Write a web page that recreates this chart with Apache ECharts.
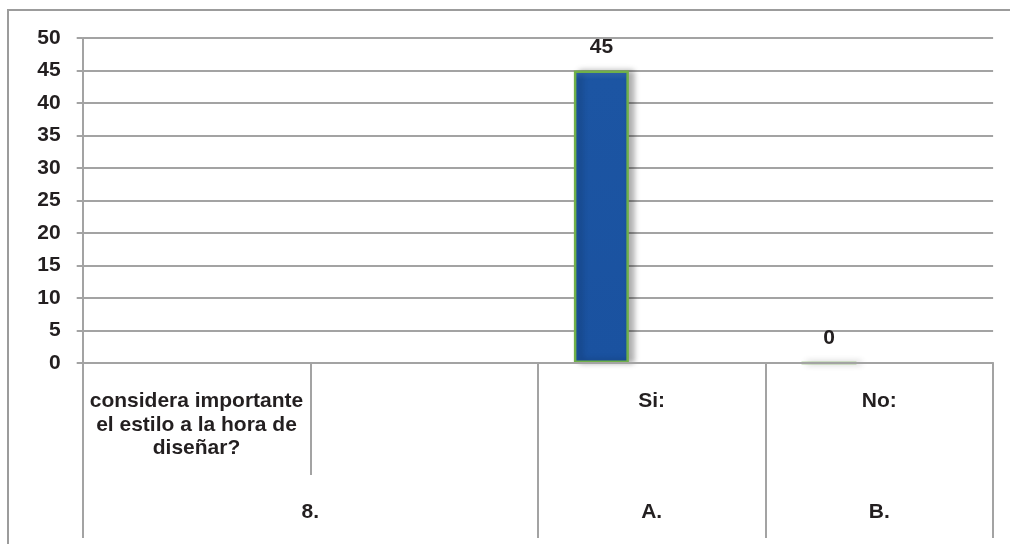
<!DOCTYPE html>
<html>
<head>
<meta charset="utf-8">
<script src="https://cdn.jsdelivr.net/npm/echarts@6/dist/echarts.min.js"></script>
<style>
  html, body { margin: 0; padding: 0; background: #ffffff; }
  #frame {
    position: absolute; left: 7px; top: 9px; width: 1100px; height: 600px;
    border-left: 2px solid #9c9c9c; border-top: 2px solid #9c9c9c;
    box-sizing: border-box;
  }
  #chart { position: absolute; left: 0; top: 0; width: 1010px; height: 544px; }
</style>
</head>
<body>
<div id="frame"></div>
<div id="chart"></div>
<script>
// Answer options (first level of the category axis)
const categories = [
  'considera importante\nel estilo a la hora de\ndiseñar?',
  '',
  'Si:',
  'No:'
];
// Group labels (second level of the category axis) and the category span of each
const groupLabels = ['8.', 'A.', 'B.'];
const groupStarts = [0, 2, 3];
const groupEnds = [2, 3, 4];
// Counts of responses
const responses = ['-', '-', 45, 0];
// Second series slot of the clustered layout (no values)
const emptySlot = ['-', '-', '-', '-'];
// Value axis ticks
const yMin = 0, yMax = 50, yStep = 5;

const FONT = '"Liberation Sans", Arial, sans-serif';
const TEXT = '#231f20';
const LINE = '#a3a3a3';

const groupCenters = groupStarts.map((s, i) => (s + groupEnds[i]) / 2);
const groupTicks = [groupStarts[0]].concat(groupEnds);

const chart = echarts.init(document.getElementById('chart'), null, { renderer: 'canvas' });
chart.setOption({
  animation: false,
  grid: { left: 82.7, right: 16.9, top: 38, bottom: 181, containLabel: false },
  xAxis: [
    {
      type: 'category',
      z: 3,
      data: categories,
      boundaryGap: true,
      axisLine: { show: true, lineStyle: { color: LINE, width: 2 } },
      axisTick: { show: true, interval: 0, length: 112, lineStyle: { color: LINE, width: 2 } },
      axisLabel: {
        interval: 0, margin: 27, fontSize: 21, fontWeight: 'bold', fontFamily: FONT,
        color: TEXT, lineHeight: 23.3, verticalAlign: 'top', align: 'center'
      },
      splitLine: { show: false }
    },
    {
      type: 'value',
      position: 'bottom',
      offset: 112,
      min: 0,
      max: categories.length,
      axisLine: { show: false },
      axisTick: { show: true, length: 63, customValues: groupTicks, lineStyle: { color: LINE, width: 2 } },
      axisLabel: {
        customValues: groupCenters, margin: 27, fontSize: 21, fontWeight: 'bold', fontFamily: FONT,
        color: TEXT, verticalAlign: 'top',
        formatter: v => groupLabels[groupCenters.indexOf(v)]
      },
      splitLine: { show: false }
    }
  ],
  yAxis: {
    type: 'value',
    min: yMin, max: yMax, interval: yStep,
    axisLine: { show: true, lineStyle: { color: LINE, width: 2 } },
    axisTick: { show: true, length: 6, lineStyle: { color: LINE, width: 2 } },
    axisLabel: { margin: 22, fontSize: 21, fontWeight: 'bold', fontFamily: FONT, color: TEXT },
    splitLine: { show: true, lineStyle: { color: LINE, width: 2 } }
  },
  series: [
    {
      type: 'bar',
      xAxisIndex: 0,
      data: responses,
      barWidth: 55,
      barGap: '83%',
      itemStyle: {
        color: {
          type: 'linear', x: 0, y: 0, x2: 0, y2: 1,
          colorStops: [
            { offset: 0, color: '#3a6fb8' },
            { offset: 0.03, color: '#1c55a3' },
            { offset: 1, color: '#1a52a0' }
          ]
        },
        borderColor: '#70b04a',
        borderWidth: 2.5,
        shadowColor: 'rgba(0,0,0,0.3)',
        shadowBlur: 6,
        shadowOffsetX: 5,
        shadowOffsetY: 0
      },
      label: {
        show: true, position: 'top', distance: 13,
        fontSize: 21, fontWeight: 'bold', fontFamily: FONT, color: TEXT
      }
    },
    {
      type: 'bar',
      xAxisIndex: 0,
      data: emptySlot,
      barWidth: 55
    }
  ]
});
</script>
</body>
</html>
